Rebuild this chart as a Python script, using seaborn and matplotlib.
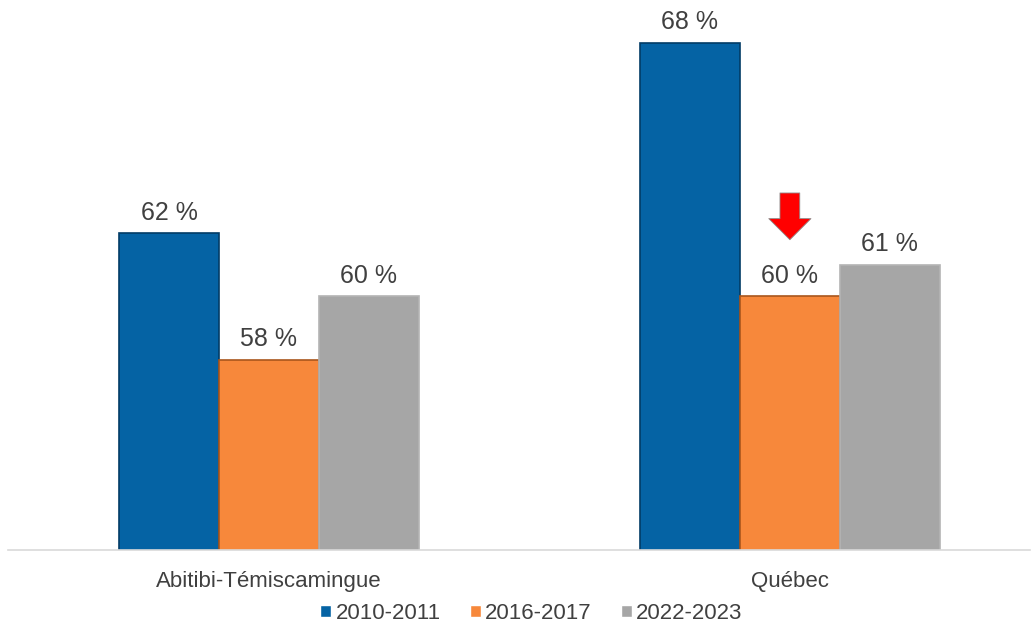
import pandas as pd
import seaborn as sns
import matplotlib.pyplot as plt

regions = ["Abitibi-Témiscamingue", "Québec"]
periods = ["2010-2011", "2016-2017", "2022-2023"]
pct_2010 = [62, 68]
pct_2016 = [58, 60]
pct_2022 = [60, 61]

colors = ["#0563A4", "#F7883B", "#A6A6A6"]
edges = ["#023C66", "#A9561C", "#B4B4B4"]

rows = []
for vals, p in zip([pct_2010, pct_2016, pct_2022], periods):
    for r, v in zip(regions, vals):
        rows.append({"region": r, "period": p, "pct": v})
df = pd.DataFrame(rows)

sns.set_style("white")
plt.rcParams["font.family"] = ["Liberation Sans", "DejaVu Sans"]

fig = plt.figure(figsize=(10.35, 6.26), dpi=100)
ax = fig.add_axes([8 / 1035, 76 / 626, 1022 / 1035, 550 / 626])

sns.barplot(data=df, x="region", y="pct", hue="period", palette=colors,
            width=0.576, gap=0, saturation=1, ax=ax, legend=True)

for cont, ec in zip(ax.containers, edges):
    for bar in cont:
        bar.set_edgecolor(ec)
        bar.set_linewidth(1.2)
    ax.bar_label(cont, fmt="%d %%", padding=6, fontsize=18, color="#404040")

ax.set_ylim(52, 69.35)
ax.set_xlim(-0.501, 1.461)
ax.set_xlabel("")
ax.set_ylabel("")
ax.set_yticks([])
sns.despine(ax=ax, left=True)
ax.spines["bottom"].set_color("#D9D9D9")
ax.spines["bottom"].set_linewidth(1.2)
ax.tick_params(axis="x", length=0, pad=15, labelsize=16, labelcolor="#404040")

# red arrow above the Québec 2016-2017 bar
ax.annotate("", xy=(1.0, 61.7), xytext=(1.0, 63.35),
            arrowprops=dict(arrowstyle="simple,head_length=0.8,head_width=1.6,tail_width=0.75",
                            mutation_scale=19, fc="#FF0000", ec="#8C8C8C", lw=0.6))

ax.legend(loc="center", bbox_to_anchor=(0.512, -0.115), ncol=3, frameon=False,
          fontsize=16, handlelength=0.5, handleheight=0.45, handletextpad=0.2,
          columnspacing=1.3, labelcolor="#404040")

fig.savefig("out.png", dpi=100)
